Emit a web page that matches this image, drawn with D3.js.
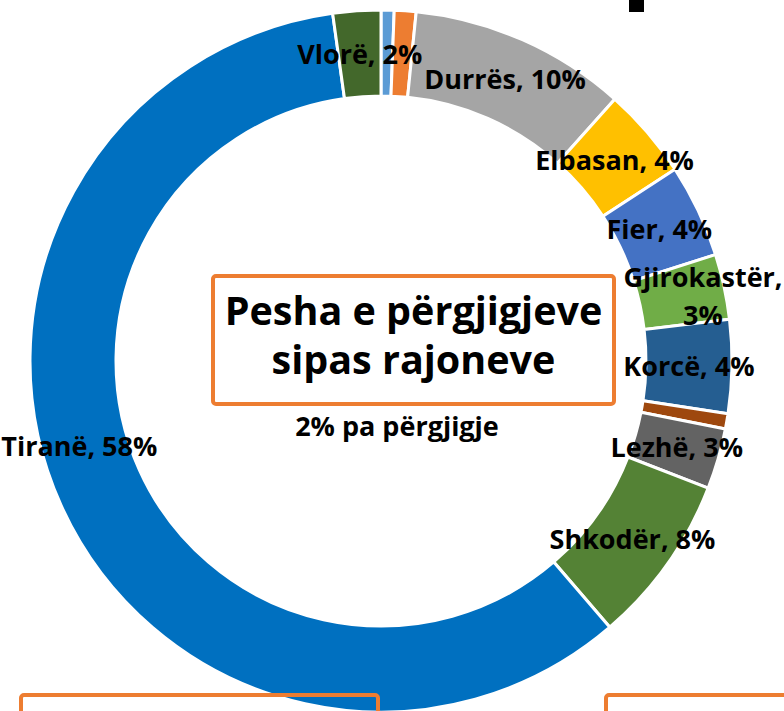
<!DOCTYPE html>
<html lang="sq">
<head>
    <meta charset="UTF-8">
    <script src="https://d3js.org/d3.v7.min.js"></script>
    <title>Pesha e përgjigjeve sipas rajoneve</title>
    <style>
        body { margin: 0; background: #fff; }
        text { font-family: "Open Sans", Lato, sans-serif; font-weight: bold; fill: #000; }
    </style>
</head>
<body>
    <div id='canvas'></div>
</body>
<script>
    // regions, in order round the ring (clockwise from 12 o'clock)
    const regions = ["Berat","Dibër","Durrës","Elbasan","Fier","Gjirokastër","Korcë","Kukës","Lezhë","Shkodër","Tiranë","Vlorë"]
    const shares = [0.6, 1.0, 10.0, 4.2, 4.3, 3.0, 4.3, 0.7, 2.8, 7.8, 59.1, 2.2]
    const pctLabels = ["", "", "10%", "4%", "4%", "3%", "4%", "", "3%", "8%", "58%", "2%"]
    const colors = ["#5B9BD5","#ED7D31","#A5A5A5","#FFC000","#4472C4","#70AD47","#255E91","#9E480E","#636363","#548235","#0070C0","#43682B"]

    const W = 784, H = 711
    const cx = 381, cy = 361
    const rOut = 351, rIn = 265
    const orange = "#ED7D31"

    const data = regions.map((r,i)=>({name:r, v:shares[i], pct:pctLabels[i], color:colors[i]}))

    const svg = d3.select("#canvas").append("svg").attr('width',W).attr('height',H)
    svg.append("rect").attr("width",W).attr("height",H).attr("fill","#fff")

    const pie = d3.pie().sort(null).value(d=>d.v)
    const arc = d3.arc().innerRadius(rIn).outerRadius(rOut)
    const midR = (rIn+rOut)/2
    const labelArc = d3.arc().innerRadius(midR).outerRadius(midR)

    const g = svg.append("g").attr("transform",`translate(${cx},${cy})`)
    const arcs = pie(data)

    g.selectAll("path.slice")
        .data(arcs)
        .enter().append("path")
        .attr("class","slice")
        .attr("d",arc)
        .attr("fill",d=>d.data.color)
        .attr("stroke","#fff")
        .attr("stroke-width",3)

    // hand-moved labels in the original
    function nudge(name){
        if(name=="Gjirokastër") return [21,0]
        if(name=="Tiranë") return [-21,-42]
        return [0,0]
    }

    const labels = g.selectAll("text.lbl")
        .data(arcs.filter(d=>d.data.pct!=""))
        .enter().append("text")
        .attr("class","lbl")
        .attr("text-anchor","middle")
        .attr("font-size",27)
        .attr("transform",d=>{
            const c = labelArc.centroid(d)
            const n = nudge(d.data.name)
            return `translate(${c[0]+n[0]},${c[1]+n[1]})`
        })
    labels.each(function(d){
        const t = d3.select(this)
        if(d.data.name.length>10){
            t.append("tspan").attr("x",0).attr("y",-9).text(d.data.name+",")
            t.append("tspan").attr("x",0).attr("y",29).text(d.data.pct)
        } else {
            t.append("tspan").attr("x",0).attr("y",10).text(d.data.name+", "+d.data.pct)
        }
    })

    // title box in the hole
    svg.append("rect").attr("x",213).attr("y",276).attr("width",401).attr("height",128)
        .attr("rx",3).attr("fill","#fff").attr("stroke",orange).attr("stroke-width",4)
    svg.append("text").attr("x",413.5).attr("y",325).attr("text-anchor","middle").attr("font-size",39.5)
        .text("Pesha e përgjigjeve")
    svg.append("text").attr("x",413.5).attr("y",374).attr("text-anchor","middle").attr("font-size",39.5)
        .text("sipas rajoneve")
    svg.append("text").attr("x",397).attr("y",436).attr("text-anchor","middle").attr("font-size",27)
        .text("2% pa përgjigje")

    // bits of neighbouring shapes that are cut by the frame
    svg.append("rect").attr("x",629).attr("y",-2).attr("width",15).attr("height",14).attr("fill","#000")
    svg.append("rect").attr("x",21).attr("y",695).attr("width",357).attr("height",60)
        .attr("rx",3).attr("fill","none").attr("stroke",orange).attr("stroke-width",4)
    svg.append("rect").attr("x",606).attr("y",695).attr("width",260).attr("height",60)
        .attr("rx",3).attr("fill","none").attr("stroke",orange).attr("stroke-width",4)
</script>
</html>
